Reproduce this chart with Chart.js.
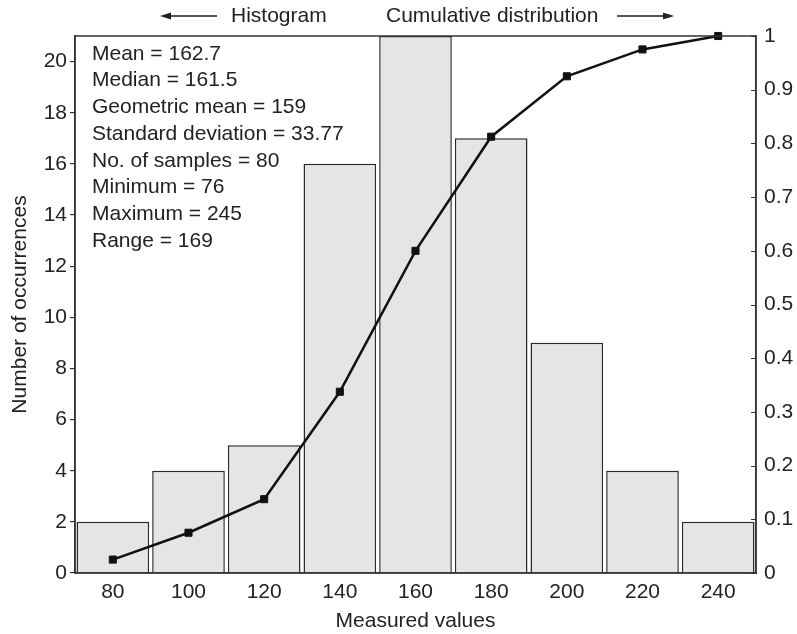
<!DOCTYPE html>
<html>
<head>
<meta charset="utf-8">
<script src="https://cdn.jsdelivr.net/npm/chart.js@4/dist/chart.umd.min.js"></script>
<style>
  html, body { margin: 0; padding: 0; background: #fff; }
  #wrap { width: 797px; height: 634px; }
</style>
</head>
<body>
<div id="wrap"><canvas id="myChart" width="797" height="634"></canvas></div>
<script>
// histogram bin centres
var binCenters = ["80", "100", "120", "140", "160", "180", "200", "220", "240"];
// number of occurrences in each bin
var counts = [2, 4, 5, 16, 21, 17, 9, 4, 2];
// cumulative distribution
var cumulative = [0.025, 0.075, 0.1375, 0.3375, 0.6, 0.8125, 0.925, 0.975, 1.0];
// summary text in the top left corner
var statLines = [
  "Mean = 162.7",
  "Median = 161.5",
  "Geometric mean = 159",
  "Standard deviation = 33.77",
  "No. of samples = 80",
  "Minimum = 76",
  "Maximum = 245",
  "Range = 169"
];

var fontFam = "'Liberation Sans', Arial, Helvetica, sans-serif";
var fontSize = 21;
var ink = "#222";

// frame, header arrows, right inner ticks and stats box
var extras = {
  id: "extras",
  afterDraw: function (chart) {
    var ctx = chart.ctx;
    var a = chart.chartArea;
    ctx.save();
    ctx.strokeStyle = "#333";
    ctx.lineWidth = 1.5;
    ctx.strokeRect(a.left, a.top, a.right - a.left, a.bottom - a.top);

    // right axis ticks point inward
    var r = chart.scales.y2;
    ctx.lineWidth = 1.2;
    ctx.beginPath();
    r.ticks.forEach(function (t) {
      var py = Math.round(r.getPixelForValue(t.value)) + 0.5;
      ctx.moveTo(a.right - 5, py);
      ctx.lineTo(a.right, py);
    });
    ctx.stroke();

    ctx.fillStyle = ink;
    ctx.font = fontSize + "px " + fontFam;
    ctx.textBaseline = "middle";
    ctx.textAlign = "left";
    ctx.fillText("Histogram", 231, 16);
    ctx.fillText("Cumulative distribution", 386, 16);

    // arrows
    ctx.strokeStyle = ink;
    ctx.lineWidth = 1.3;
    ctx.beginPath();
    ctx.moveTo(217, 16); ctx.lineTo(165, 16);
    ctx.moveTo(617, 16); ctx.lineTo(668, 16);
    ctx.stroke();
    ctx.beginPath();
    ctx.moveTo(160, 16); ctx.lineTo(171, 12.5); ctx.lineTo(171, 19.5); ctx.closePath();
    ctx.moveTo(674, 16); ctx.lineTo(663, 12.5); ctx.lineTo(663, 19.5); ctx.closePath();
    ctx.fill();

    // stats
    for (var i = 0; i < statLines.length; i++) {
      ctx.fillText(statLines[i], 92, 54 + i * 26.7);
    }
    ctx.restore();
  }
};

var ctx = document.getElementById("myChart").getContext("2d");
var myChart = new Chart(ctx, {
  type: "bar",
  data: {
    labels: binCenters,
    datasets: [
      {
        type: "line",
        data: cumulative,
        yAxisID: "y2",
        order: 0,
        clip: false,
        borderColor: "#111",
        borderWidth: 2.5,
        tension: 0,
        fill: false,
        pointStyle: "rect",
        pointRadius: 5,
        pointBackgroundColor: "#111",
        pointBorderColor: "#111",
        pointBorderWidth: 1
      },
      {
        type: "bar",
        data: counts,
        yAxisID: "y",
        order: 1,
        backgroundColor: "#e4e5e7",
        borderColor: "#2a2a2a",
        borderWidth: 1.5,
        categoryPercentage: 1,
        barPercentage: 0.96
      }
    ]
  },
  options: {
    responsive: false,
    animation: false,
    layout: { padding: { top: 36, left: 0, right: 0, bottom: 0 } },
    plugins: {
      legend: { display: false },
      tooltip: { enabled: false }
    },
    scales: {
      x: {
        offset: true,
        grid: { display: false, drawTicks: false },
        border: { display: true, color: "#333", width: 1.5 },
        ticks: { color: ink, font: { family: fontFam, size: fontSize }, padding: 7 },
        title: {
          display: true,
          text: "Measured values",
          color: ink,
          font: { family: fontFam, size: fontSize },
          padding: { top: 6, bottom: 0 }
        },
        afterFit: function (s) { s.height = 61; }
      },
      y: {
        position: "left",
        min: 0,
        max: 21,
        afterBuildTicks: function (s) {
          s.ticks = s.ticks.filter(function (t) { return t.value % 2 === 0; });
        },
        ticks: {
          stepSize: 2,
          color: ink,
          font: { family: fontFam, size: fontSize },
          padding: 3
        },
        grid: { drawOnChartArea: false, drawTicks: true, tickLength: 5, color: "#333", lineWidth: 1.2 },
        border: { display: true, color: "#333", width: 1.5 },
        title: {
          display: true,
          text: "Number of occurrences",
          color: ink,
          font: { family: fontFam, size: fontSize },
          padding: { top: 8, bottom: 4 }
        },
        afterFit: function (s) { s.width = 75; }
      },
      y2: {
        position: "right",
        min: 0,
        max: 1,
        ticks: {
          stepSize: 0.1,
          color: ink,
          font: { family: fontFam, size: fontSize },
          padding: 8,
          callback: function (v) { return String(+v.toFixed(1)); }
        },
        grid: { drawOnChartArea: false, drawTicks: false },
        border: { display: true, color: "#333", width: 1.5 },
        afterFit: function (s) { s.width = 41; }
      }
    }
  },
  plugins: [extras]
});
</script>
</body>
</html>
